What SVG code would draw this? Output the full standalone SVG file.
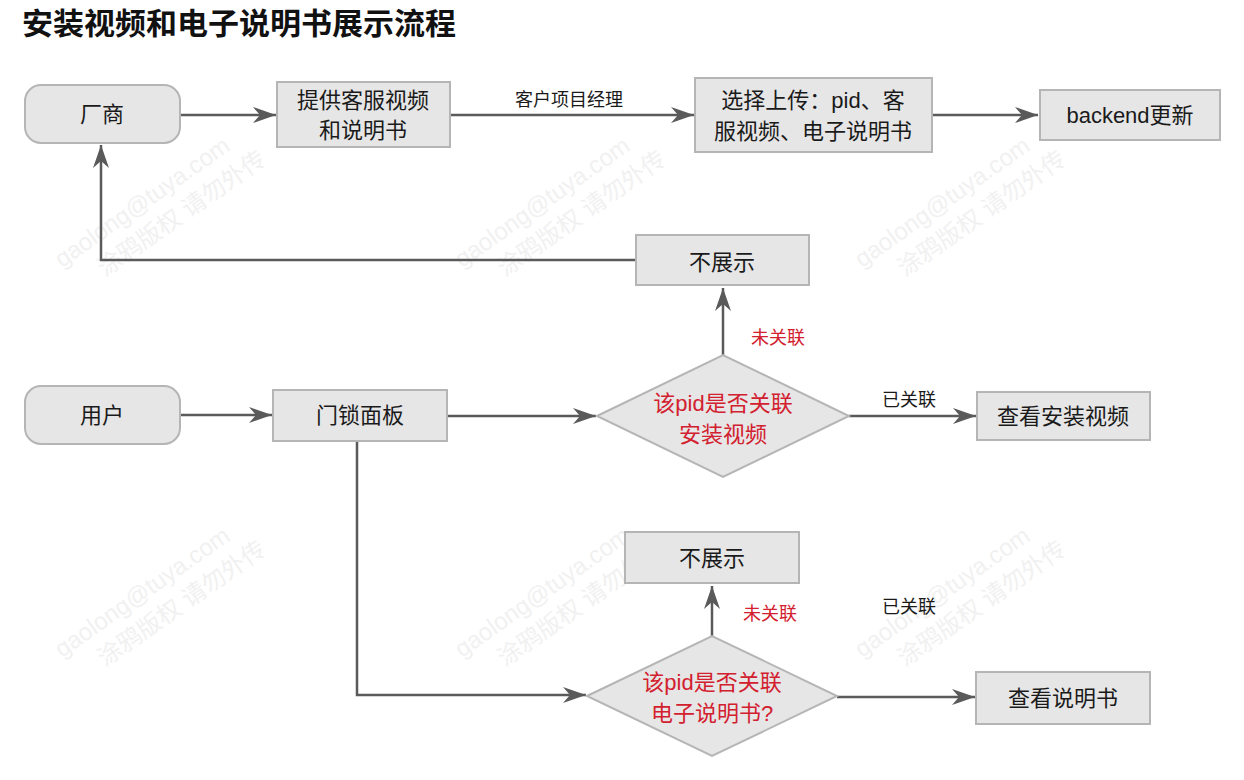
<svg xmlns="http://www.w3.org/2000/svg" width="1244" height="780" viewBox="0 0 1244 780">
<defs>
<style>
.box{fill:#e6e6e6;stroke:#b5b5b5;stroke-width:2}
.t{font-family:"Liberation Sans","Noto Sans CJK SC",sans-serif;font-size:22px;fill:#1a1a1a;text-anchor:middle;dominant-baseline:central}
.lbl{font-family:"Liberation Sans","Noto Sans CJK SC",sans-serif;font-size:18px;fill:#1a1a1a;text-anchor:middle;dominant-baseline:central}
.red{fill:#d3202f}
.edge{fill:none;stroke:#5a5a5a;stroke-width:2.5;marker-end:url(#arr)}
.wm{font-family:"Liberation Sans","Noto Sans CJK SC",sans-serif;font-size:24px;fill:#f1f1f1}
</style>
<marker id="arr" viewBox="0 0 24 18" refX="24" refY="9" markerWidth="24" markerHeight="18" markerUnits="userSpaceOnUse" orient="auto">
<path d="M24,9 L1,1 L8,9 L1,17 Z" fill="#5a5a5a"/>
</marker>
</defs>
<rect width="1244" height="780" fill="#ffffff"/>
<g id="watermarks">
<g transform="translate(62,268) rotate(-35)"><text class="wm">gaolong@tuya.com</text><text class="wm" x="30" y="32">涂鸦版权 请勿外传</text></g>
<g transform="translate(462,268) rotate(-35)"><text class="wm">gaolong@tuya.com</text><text class="wm" x="30" y="32">涂鸦版权 请勿外传</text></g>
<g transform="translate(862,268) rotate(-35)"><text class="wm">gaolong@tuya.com</text><text class="wm" x="30" y="32">涂鸦版权 请勿外传</text></g>
<g transform="translate(62,658) rotate(-35)"><text class="wm">gaolong@tuya.com</text><text class="wm" x="30" y="32">涂鸦版权 请勿外传</text></g>
<g transform="translate(462,658) rotate(-35)"><text class="wm">gaolong@tuya.com</text><text class="wm" x="30" y="32">涂鸦版权 请勿外传</text></g>
<g transform="translate(862,658) rotate(-35)"><text class="wm">gaolong@tuya.com</text><text class="wm" x="30" y="32">涂鸦版权 请勿外传</text></g>
</g>
<text x="22" y="34" textLength="434" lengthAdjust="spacingAndGlyphs" style="font-family:'Liberation Sans','Noto Sans CJK SC',sans-serif;font-size:30px;font-weight:bold;fill:#111">安装视频和电子说明书展示流程</text>
<g id="connectors">
<path class="edge" d="M180,115 L276,115"/>
<path class="edge" d="M450,115 L694,115"/>
<text class="lbl" x="569" y="100">客户项目经理</text>
<path class="edge" d="M932,115 L1038,115"/>
<path class="edge" d="M637,260 L101,260 L101,145"/>
<path class="edge" d="M180,415 L272,415"/>
<path class="edge" d="M447,416 L596,416"/>
<path class="edge" d="M723,355 L723,288"/>
<text class="lbl red" x="778" y="338">未关联</text>
<path class="edge" d="M849,416 L976,416"/>
<text class="lbl" x="909" y="400">已关联</text>
<path class="edge" d="M357,441 L357,695 L586,695"/>
<path class="edge" d="M712,636 L712,586"/>
<text class="lbl red" x="770" y="614">未关联</text>
<path class="edge" d="M837,697 L975,697"/>
<text class="lbl" x="909" y="607">已关联</text>
</g>
<g id="vendor"><rect class="box" x="25" y="85" width="155" height="58" rx="16"/><text class="t" x="102" y="114">厂商</text></g>
<g id="provide"><rect class="box" x="277" y="82" width="173" height="65"/><text class="t" x="363" y="100">提供客服视频</text><text class="t" x="363" y="130">和说明书</text></g>
<g id="upload"><rect class="box" x="695" y="78" width="237" height="74"/><text class="t" x="813" y="100">选择上传：pid、客</text><text class="t" x="813" y="131">服视频、电子说明书</text></g>
<g id="backend"><rect class="box" x="1040" y="90" width="180" height="50"/><text class="t" x="1130" y="115">backend更新</text></g>
<g id="hide1"><rect class="box" x="636" y="235" width="173" height="50"/><text class="t" x="722" y="262">不展示</text></g>
<g id="user"><rect class="box" x="25" y="386" width="155" height="58" rx="16"/><text class="t" x="102" y="415">用户</text></g>
<g id="panel"><rect class="box" x="273" y="390" width="174" height="51"/><text class="t" x="360" y="415">门锁面板</text></g>
<g id="decision1"><polygon class="box" points="597,416 723,355 849,416 723,477"/><text class="t red" x="723" y="403">该pid是否关联</text><text class="t red" x="723" y="434">安装视频</text></g>
<g id="video"><rect class="box" x="977" y="392" width="173" height="48"/><text class="t" x="1063" y="416">查看安装视频</text></g>
<g id="hide2"><rect class="box" x="625" y="532" width="174" height="51"/><text class="t" x="712" y="558">不展示</text></g>
<g id="decision2"><polygon class="box" points="587,696 712,636 837,696 712,756"/><text class="t red" x="712" y="682">该pid是否关联</text><text class="t red" x="712" y="713">电子说明书?</text></g>
<g id="manual"><rect class="box" x="976" y="672" width="174" height="52"/><text class="t" x="1063" y="698">查看说明书</text></g>
</svg>
